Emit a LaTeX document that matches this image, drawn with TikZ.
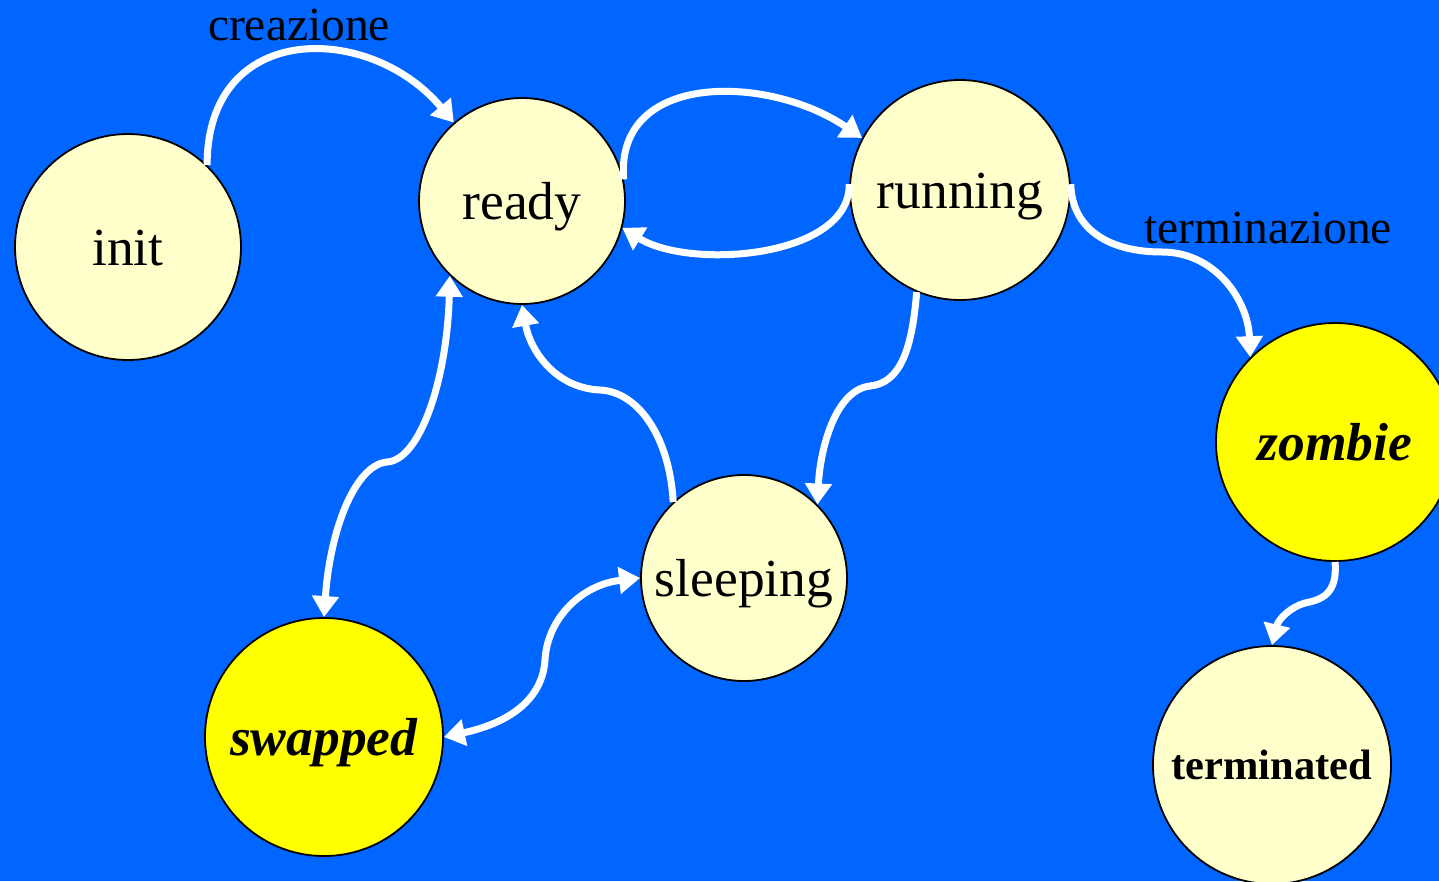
\documentclass[tikz,border=0pt]{standalone}
\usepackage{fontspec}
\setmainfont{Liberation Serif}
\usetikzlibrary{arrows.meta}
\definecolor{bgblue}{HTML}{0066FF}
\definecolor{paleyellow}{HTML}{FFFFCC}
\definecolor{brightyellow}{HTML}{FFFF00}
\tikzset{
  state/.style={circle, draw=black, line width=1.8pt, fill=paleyellow, inner sep=0pt,
    text height=37pt, text depth=0pt,
    font=\fontsize{53.5}{60}\selectfont},
  hotstate/.style={state, fill=brightyellow},
  flow/.style={draw=white, line width=7pt, -{Triangle[length=21pt,width=26pt]}},
  twoway/.style={draw=white, line width=7pt, {Triangle[length=21pt,width=26pt]}-{Triangle[length=21pt,width=26pt]}},
  lbl/.style={font=\fontsize{47.5}{54}\selectfont, inner sep=0pt}
}
\begin{document}
\begin{tikzpicture}[x=1pt,y=-1pt]
\useasboundingbox (0,0) rectangle (1439,881);
\clip (0,0) rectangle (1439,881);
\fill[bgblue] (0,0) rectangle (1439,881);

\node[state, minimum size=226pt] (init) at (128,247) {init};
\node[state, minimum size=206pt] (ready) at (522,201) {ready};
\node[state, minimum size=220pt] (running) at (960,190) {running};
\node[hotstate, minimum size=238pt] (zombie) at (1335,442) {\textbf{\textit{zombie}}};
\node[state, minimum size=238pt, text height=29pt, font=\fontsize{42.5}{50}\selectfont] (terminated) at (1272,765) {\textbf{terminated}};
\node[state, minimum size=206pt] (sleeping) at (744,578) {sleeping};
\node[hotstate, minimum size=238pt] (swapped) at (324,737) {\textbf{\textit{swapped}}};

\node[lbl] (creaz) at (299,25) {creazione};
\node[lbl] (termz) at (1268,228) {terminazione};

\coordinate (m1) at (1162,252);
\coordinate (m2) at (1305,603);
\coordinate (m3) at (387,462);
\coordinate (m4) at (600,390);
\coordinate (m5) at (870,386);
\coordinate (m6) at (545,660);

\draw[flow] (init.46) .. controls (207,20) and (370,22) .. (ready.131);
\draw[flow] (ready.12) .. controls (615,70) and (770,75) .. (running.152);
\draw[flow] (running.177) .. controls (850,258) and (690,270) .. (ready.-15);
\draw[flow] (running.3) .. controls (1072,230) and (1110,252) .. (m1)
  .. controls (1215,252) and (1248,300) .. (zombie.135);
\draw[flow] (zombie.-90) .. controls (1338,595) and (1320,600) .. (m2)
  .. controls (1290,607) and (1278,620) .. (terminated.90);
\draw[twoway] (ready.226) .. controls (447,380) and (420,460) .. (m3)
  .. controls (355,465) and (330,530) .. (swapped.90);
\draw[flow] (sleeping.133) .. controls (670,440) and (640,392) .. (m4)
  .. controls (555,388) and (530,350) .. (ready.-90);
\draw[flow] (running.247) .. controls (912,350) and (900,383) .. (m5)
  .. controls (835,390) and (820,450) .. (sleeping.45);
\draw[twoway] (sleeping.180) .. controls (580,585) and (547,620) .. (m6)
  .. controls (542,705) and (500,725) .. (swapped.0);
\end{tikzpicture}
\end{document}
